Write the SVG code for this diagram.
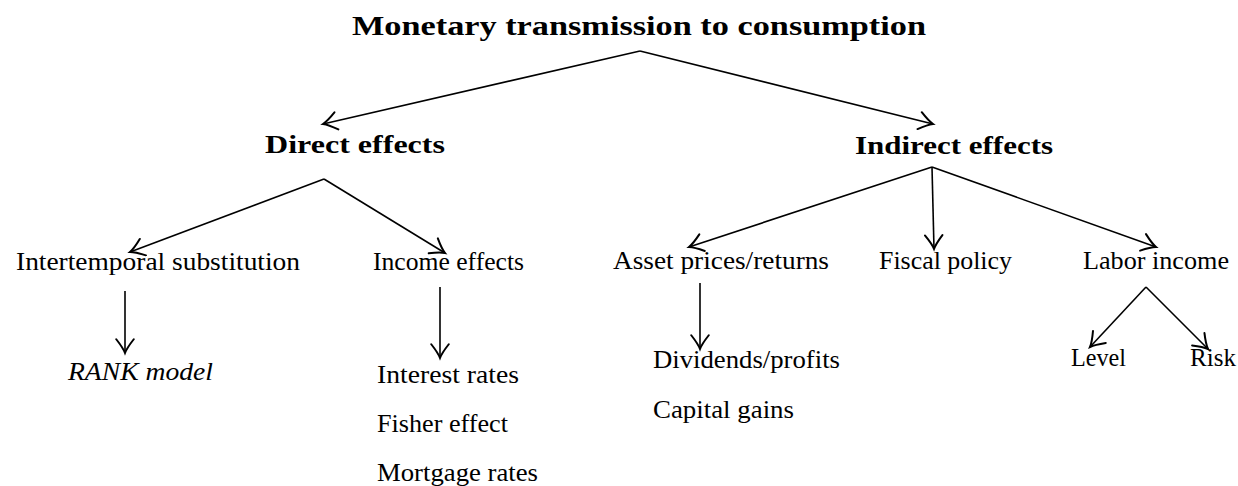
<svg xmlns="http://www.w3.org/2000/svg" width="1238" height="486" viewBox="0 0 1238 486">
<style>
text{font-family:"Liberation Serif","Times New Roman",serif;fill:#000;}
.t{font-size:28px;font-weight:bold;}
.h{font-size:26px;font-weight:bold;}
.n{font-size:24.5px;}
.i{font-size:24.5px;font-style:italic;}
.c line{stroke:#000;stroke-width:1.6;marker-end:url(#a);}
</style>
<defs>
<marker id="a" markerUnits="userSpaceOnUse" markerWidth="20" markerHeight="20" viewBox="-12 -8 14 16" refX="0" refY="0" orient="auto">
<path d="M-11,-7 Q-4,-1.5 0,0 Q-4,1.5 -11,7" fill="none" stroke="#000" stroke-width="1.6" stroke-linecap="round"/>
</marker>
</defs>
<rect width="1238" height="486" fill="#fff"/>
<g class="c" id="connectors">
<line x1="640" y1="51" x2="323" y2="124"/>
<line x1="640" y1="51" x2="933" y2="124"/>
<line x1="324" y1="179" x2="130" y2="252"/>
<line x1="324" y1="179" x2="445" y2="253"/>
<line x1="125" y1="291" x2="125" y2="353"/>
<line x1="440" y1="287" x2="440" y2="358"/>
<line x1="932" y1="167" x2="689" y2="247"/>
<line x1="932" y1="167" x2="934" y2="249"/>
<line x1="932" y1="167" x2="1156" y2="247"/>
<line x1="700" y1="283" x2="700" y2="349"/>
<line x1="1146" y1="287" x2="1090" y2="347"/>
<line x1="1146" y1="287" x2="1208" y2="349"/>
</g>
<g id="root"><text class="t" x="352" y="35" textLength="574" lengthAdjust="spacingAndGlyphs">Monetary transmission to consumption</text></g>
<g id="direct"><text class="h" x="265" y="153" textLength="180" lengthAdjust="spacingAndGlyphs">Direct effects</text></g>
<g id="indirect"><text class="h" x="855" y="154" textLength="198" lengthAdjust="spacingAndGlyphs">Indirect effects</text></g>
<g id="intertemporal"><text class="n" x="16" y="270" textLength="284" lengthAdjust="spacingAndGlyphs">Intertemporal substitution</text></g>
<g id="income"><text class="n" x="373" y="270" textLength="151" lengthAdjust="spacingAndGlyphs">Income effects</text></g>
<g id="rank"><text class="i" x="68" y="380" textLength="145" lengthAdjust="spacingAndGlyphs">RANK model</text></g>
<g id="income-items">
<text class="n" x="377" y="383" textLength="142" lengthAdjust="spacingAndGlyphs">Interest rates</text>
<text class="n" x="377" y="432" textLength="131" lengthAdjust="spacingAndGlyphs">Fisher effect</text>
<text class="n" x="377" y="481" textLength="161" lengthAdjust="spacingAndGlyphs">Mortgage rates</text>
</g>
<g id="asset"><text class="n" x="613" y="269" textLength="216" lengthAdjust="spacingAndGlyphs">Asset prices/returns</text></g>
<g id="fiscal"><text class="n" x="879" y="269" textLength="133" lengthAdjust="spacingAndGlyphs">Fiscal policy</text></g>
<g id="labor"><text class="n" x="1083" y="269" textLength="146" lengthAdjust="spacingAndGlyphs">Labor income</text></g>
<g id="asset-items">
<text class="n" x="653" y="368" textLength="187" lengthAdjust="spacingAndGlyphs">Dividends/profits</text>
<text class="n" x="653" y="418" textLength="141" lengthAdjust="spacingAndGlyphs">Capital gains</text>
</g>
<g id="level"><text class="n" x="1071" y="366" textLength="55" lengthAdjust="spacingAndGlyphs">Level</text></g>
<g id="risk"><text class="n" x="1190" y="366" textLength="46" lengthAdjust="spacingAndGlyphs">Risk</text></g>
</svg>
